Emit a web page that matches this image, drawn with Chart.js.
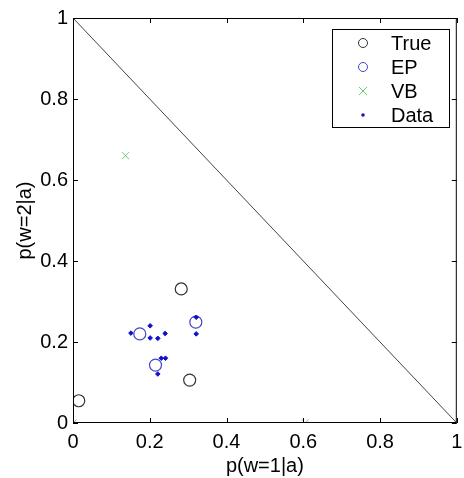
<!DOCTYPE html>
<html>
<head>
<meta charset="utf-8">
<script src="https://cdn.jsdelivr.net/npm/chart.js@4/dist/chart.umd.min.js"></script>
<style>
  html, body { margin: 0; padding: 0; background: #fff; }
  #wrap { width: 464px; height: 478px; }
</style>
</head>
<body>
<div id="wrap"><canvas id="myChart" width="464" height="478"></canvas></div>
<script>
// values
const trueX = [0.015, 0.282, 0.304];
const trueY = [0.055, 0.331, 0.106];
const epX = [0.174, 0.215, 0.320];
const epY = [0.220, 0.143, 0.249];
const vbX = [0.137, 0.0, 0.605];
const vbY = [0.660, 0.0, 0.0];
const dataX = [0.151, 0.201, 0.201, 0.221, 0.240, 0.321, 0.321, 0.230, 0.241, 0.221];
const dataY = [0.222, 0.240, 0.210, 0.209, 0.221, 0.261, 0.220, 0.160, 0.160, 0.121];
const lineX = [0, 1];
const lineY = [1, 0];
const tickVals = [0, 0.2, 0.4, 0.6, 0.8, 1];
const legendLabels = ['True', 'EP', 'VB', 'Data'];

const pts = (xs, ys) => xs.map((x, i) => ({ x: x, y: ys[i] }));
const font = 'Liberation Sans, Arial, sans-serif';
const fsize = 20;

// box + inward ticks, like the matlab axes
const frame = {
    id: 'frame',
    afterDatasetsDraw(chart) {
        const c = chart.ctx;
        const a = chart.chartArea;
        const xs = chart.scales.x, ys = chart.scales.y;
        c.save();
        c.strokeStyle = '#000';
        c.lineWidth = 1;
        c.strokeRect(a.left + 0.5, a.top + 0.5, a.right - a.left - 1, a.bottom - a.top - 1);
        c.beginPath();
        tickVals.forEach(v => {
            const px = Math.round(xs.getPixelForValue(v)) + 0.5;
            c.moveTo(px, a.bottom); c.lineTo(px, a.bottom - 5);
            c.moveTo(px, a.top); c.lineTo(px, a.top + 5);
            const py = Math.round(ys.getPixelForValue(v)) + 0.5;
            c.moveTo(a.left, py); c.lineTo(a.left + 5, py);
            c.moveTo(a.right, py); c.lineTo(a.right - 5, py);
        });
        c.stroke();

        // legend box
        const lx = 332, ly = 29, lw = 117, lh = 98;
        c.fillStyle = '#fff';
        c.fillRect(lx, ly, lw, lh);
        c.strokeRect(lx + 0.5, ly + 0.5, lw, lh);
        c.font = fsize + 'px ' + font;
        c.textBaseline = 'middle';
        c.textAlign = 'left';
        legendLabels.forEach((t, i) => {
            const y = 43 + i * 24;
            const mx = 363;
            c.lineWidth = 1;
            if (i === 0 || i === 1) {
                c.strokeStyle = i === 0 ? '#333' : '#4444cc';
                c.beginPath(); c.arc(mx, y, 4.5, 0, Math.PI * 2); c.stroke();
            } else if (i === 2) {
                c.strokeStyle = '#66cc66';
                c.beginPath();
                c.moveTo(mx - 4, y - 4); c.lineTo(mx + 4, y + 4);
                c.moveTo(mx + 4, y - 4); c.lineTo(mx - 4, y + 4);
                c.stroke();
            } else {
                c.fillStyle = '#1a1aaa';
                c.beginPath(); c.arc(mx, y, 1.8, 0, Math.PI * 2); c.fill();
            }
            c.fillStyle = '#000';
            c.fillText(t, 391, y + 1);
        });
        c.restore();
    }
};

const ctx = document.getElementById('myChart').getContext('2d');
const myChart = new Chart(ctx, {
    type: 'scatter',
    data: {
        datasets: [
            {
                label: 'Data',
                data: pts(dataX, dataY),
                pointStyle: 'rectRot',
                pointRadius: 2.3,
                backgroundColor: '#1010cc',
                borderColor: '#1010cc',
                borderWidth: 1,
                order: 1
            },
            {
                label: 'VB',
                data: pts(vbX, vbY),
                pointStyle: 'crossRot',
                pointRadius: 5,
                borderColor: '#66cc66',
                borderWidth: 1,
                order: 2
            },
            {
                label: 'EP',
                data: pts(epX, epY),
                pointStyle: 'circle',
                pointRadius: 6,
                backgroundColor: 'rgba(0,0,0,0)',
                borderColor: '#4444cc',
                borderWidth: 1.2,
                order: 3
            },
            {
                label: 'True',
                data: pts(trueX, trueY),
                pointStyle: 'circle',
                pointRadius: 6,
                backgroundColor: 'rgba(0,0,0,0)',
                borderColor: '#333',
                borderWidth: 1.2,
                order: 4
            },
            {
                label: 'line',
                data: pts(lineX, lineY),
                showLine: true,
                pointRadius: 0,
                borderColor: '#444',
                borderWidth: 1,
                order: 5
            }
        ]
    },
    options: {
        responsive: false,
        animation: false,
        layout: { padding: { top: 18, right: 6, left: 0, bottom: 0 } },
        plugins: {
            legend: { display: false },
            tooltip: { enabled: false }
        },
        scales: {
            x: {
                type: 'linear',
                min: 0, max: 1,
                afterBuildTicks: s => { s.ticks = tickVals.map(v => ({ value: v })); },
                afterFit: s => { s.height = 55; s.paddingLeft = 0; s.paddingRight = 0; },
                grid: { display: false, drawTicks: false },
                border: { display: false },
                ticks: {
                    padding: 7,
                    color: '#000',
                    font: { family: font, size: fsize },
                    callback: v => String(v)
                },
                title: {
                    display: true,
                    text: 'p(w=1|a)',
                    color: '#000',
                    font: { family: font, size: fsize },
                    padding: { top: 0, bottom: 0 }
                }
            },
            y: {
                type: 'linear',
                min: 0, max: 1,
                afterBuildTicks: s => { s.ticks = tickVals.map(v => ({ value: v })); },
                afterFit: s => { s.width = 73; s.paddingTop = 0; s.paddingBottom = 0; },
                grid: { display: false, drawTicks: false },
                border: { display: false },
                ticks: {
                    padding: 5,
                    color: '#000',
                    font: { family: font, size: fsize },
                    callback: v => String(v)
                },
                title: {
                    display: true,
                    text: 'p(w=2|a)',
                    color: '#000',
                    font: { family: font, size: fsize },
                    padding: { top: 13, bottom: 0 }
                }
            }
        }
    },
    plugins: [frame]
});
</script>
</body>
</html>
